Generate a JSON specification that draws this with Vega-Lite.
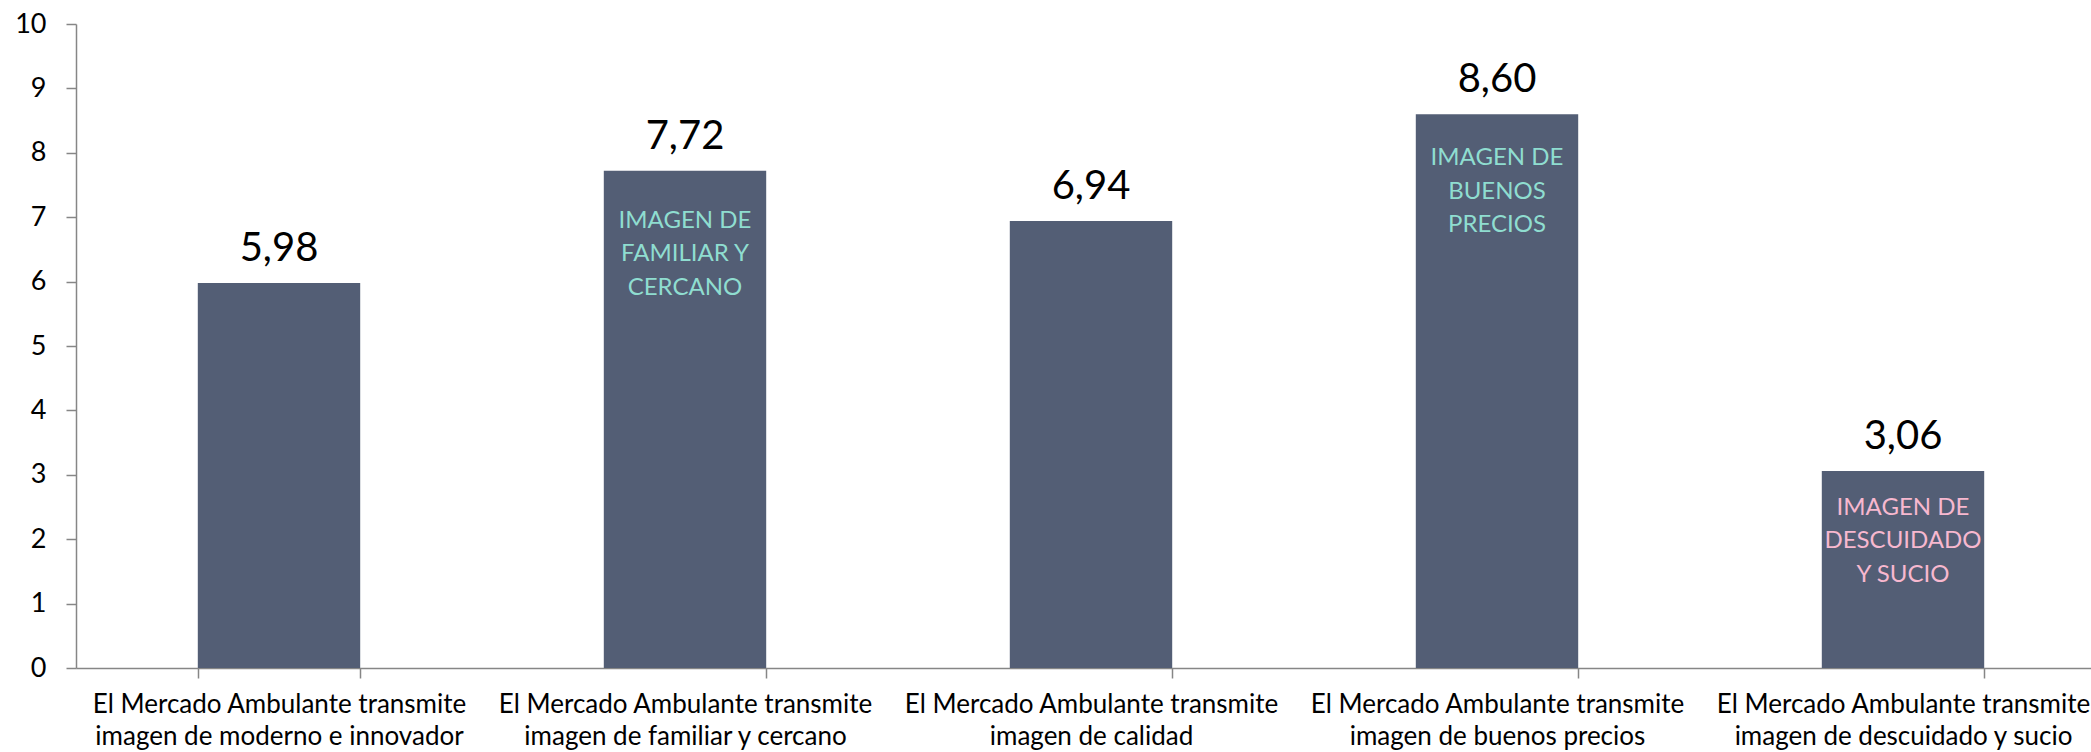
{
  "$schema": "https://vega.github.io/schema/vega-lite/v6.json",
  "width": 2015,
  "height": 644,
  "autosize": {"type": "none"},
  "padding": {"left": 76, "top": 24, "right": 0, "bottom": 84},
  "background": "white",
  "config": {
    "view": {"stroke": null},
    "font": "Lato",
    "locale": {"number": {"decimal": ",", "thousands": ".", "grouping": [3], "currency": ["", " €"]}}
  },
  "data": {
    "values": [
      {"cat": "El Mercado Ambulante transmite imagen de moderno e innovador", "value": 5.98, "nota": "", "tono": "none"},
      {"cat": "El Mercado Ambulante transmite imagen de familiar y cercano", "value": 7.72, "nota": "IMAGEN DE\nFAMILIAR Y\nCERCANO", "tono": "pos"},
      {"cat": "El Mercado Ambulante transmite imagen de calidad", "value": 6.94, "nota": "", "tono": "none"},
      {"cat": "El Mercado Ambulante transmite imagen de buenos precios", "value": 8.60, "nota": "IMAGEN DE\nBUENOS\nPRECIOS", "tono": "pos"},
      {"cat": "El Mercado Ambulante transmite imagen de descuidado y sucio", "value": 3.06, "nota": "IMAGEN DE\nDESCUIDADO\nY SUCIO", "tono": "neg"}
    ]
  },
  "encoding": {
    "x": {
      "field": "cat", "type": "nominal", "sort": null,
      "scale": {"paddingInner": 0.6, "paddingOuter": 0.3, "range": [0, 2030]},
      "axis": {
        "title": null, "labelAngle": 0, "labelFont": "Lato", "labelFontSize": 26, "labelColor": "#000000",
        "labelExpr": "[slice(datum.label, 0, 30), slice(datum.label, 31)]",
        "labelLineHeight": 32, "labelPadding": 13, "labelBaseline": "top",
        "domainColor": "#868686", "domainWidth": 1.5, "tickColor": "#868686", "tickWidth": 1.5,
        "tickSize": 10, "tickBand": "extent", "labelLimit": 0
      }
    },
    "y": {
      "field": "value", "type": "quantitative",
      "scale": {"domain": [0, 10], "nice": false},
      "axis": {
        "title": null, "values": [0,1,2,3,4,5,6,7,8,9,10], "grid": false,
        "labelFont": "Lato", "labelFontSize": 27, "labelColor": "#000000", "labelPadding": 20,
        "domainColor": "#868686", "domainWidth": 1.5, "tickColor": "#868686", "tickWidth": 1.5,
        "tickSize": 10
      }
    }
  },
  "layer": [
    {"mark": {"type": "bar", "color": "#535e75"}},
    {
      "mark": {"type": "text", "baseline": "middle", "align": "center", "dy": -34, "fontSize": 40, "font": "Lato", "color": "#000000"},
      "encoding": {"text": {"field": "value", "type": "quantitative", "format": ".2f"}}
    },
    {
      "transform": [{"filter": "datum.value > 7 && datum.value < 8"}],
      "mark": {"type": "text", "baseline": "top", "align": "center", "dy": 38, "fontSize": 24, "font": "Lato", "lineBreak": "\n", "lineHeight": 33.5, "color": "#8fddd0"},
      "encoding": {"text": {"field": "nota"}}
    },
    {
      "transform": [{"filter": "datum.value > 8"}],
      "mark": {"type": "text", "baseline": "top", "align": "center", "dy": 32, "fontSize": 24, "font": "Lato", "lineBreak": "\n", "lineHeight": 33.5, "color": "#8fddd0"},
      "encoding": {"text": {"field": "nota"}}
    },
    {
      "transform": [{"filter": "datum.tono == 'neg'"}],
      "mark": {"type": "text", "baseline": "top", "align": "center", "dy": 25, "fontSize": 24, "font": "Lato", "lineBreak": "\n", "lineHeight": 33.5, "color": "#f7b8cf"},
      "encoding": {"text": {"field": "nota"}}
    }
  ]
}
